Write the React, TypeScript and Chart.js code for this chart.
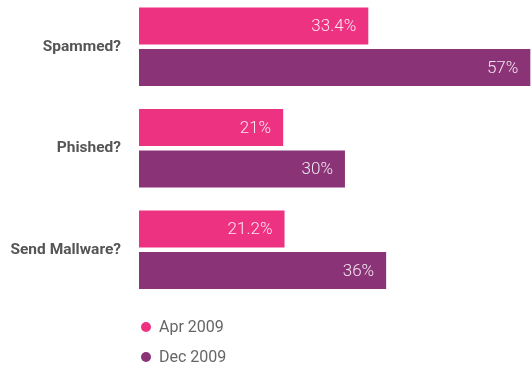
import React, { useEffect, useRef } from "react";
import { Chart, registerables } from "chart.js";

Chart.register(...registerables);

const categories = ["Spammed?", "Phished?", "Send Mallware?"];
const seriesNames = ["Apr 2009", "Dec 2009"];
const apr2009 = [33.4, 21, 21.2];
const dec2009 = [57, 30, 36];
const colors = ["#ED3282", "#8A3377"];

const barLabelsPlugin = {
  id: "barLabels",
  afterDatasetsDraw(chart: any) {
    const ctx = chart.ctx;
    ctx.save();
    ctx.font = "300 17px Roboto, 'DejaVu Sans', sans-serif";
    ctx.fillStyle = "rgba(255,255,255,0.88)";
    ctx.textAlign = "right";
    ctx.textBaseline = "middle";
    chart.data.datasets.forEach((ds: any, di: number) => {
      const meta = chart.getDatasetMeta(di);
      meta.data.forEach((el: any, i: number) => {
        ctx.fillText(`${ds.data[i]}%`, el.x - 12, el.y + 1);
      });
    });
    ctx.restore();
  },
};

const customLegendPlugin = {
  id: "customLegend",
  afterDraw(chart: any) {
    const ctx = chart.ctx;
    const { left, bottom } = chart.chartArea;
    ctx.save();
    ctx.font = "16px Roboto, 'DejaVu Sans', sans-serif";
    ctx.textBaseline = "middle";
    ctx.textAlign = "left";
    chart.data.datasets.forEach((ds: any, i: number) => {
      const y = bottom + 26.5 + i * 30;
      ctx.beginPath();
      ctx.fillStyle = ds.backgroundColor;
      ctx.arc(left + 7, y, 5, 0, Math.PI * 2);
      ctx.fill();
      ctx.fillStyle = "#666666";
      ctx.fillText(ds.label, left + 20, y + 1);
    });
    ctx.restore();
  },
};

export default function App() {
  const canvasRef = useRef<HTMLCanvasElement | null>(null);

  useEffect(() => {
    if (!canvasRef.current) return;
    const chart = new Chart(canvasRef.current, {
      type: "bar",
      data: {
        labels: categories,
        datasets: [
          { label: seriesNames[0], data: apr2009, backgroundColor: colors[0] },
          { label: seriesNames[1], data: dec2009, backgroundColor: colors[1] },
        ],
      },
      options: {
        indexAxis: "y",
        animation: false,
        responsive: true,
        maintainAspectRatio: false,
        categoryPercentage: 0.818,
        barPercentage: 0.89,
        layout: { padding: { top: 0, bottom: 65.5, left: 0, right: 0 } },
        plugins: {
          legend: { display: false },
          tooltip: { enabled: false },
        },
        scales: {
          x: { display: false, min: 0, max: 57.1 },
          y: {
            grid: { display: false, drawTicks: false },
            border: { display: false },
            afterFit: (scale: any) => {
              scale.width = 139;
              scale.paddingTop = 0;
              scale.paddingBottom = 0;
            },
            ticks: {
              padding: 18,
              color: "#555555",
              font: {
                family: "Roboto, 'DejaVu Sans', sans-serif",
                size: 15.5,
                weight: "bold",
              },
            },
          },
        },
      },
      plugins: [barLabelsPlugin, customLegendPlugin],
    });
    return () => chart.destroy();
  }, []);

  return (
    <div style={{ position: "absolute", left: 0, top: -4, width: 531, height: 370 }}>
      <canvas ref={canvasRef} />
    </div>
  );
}
